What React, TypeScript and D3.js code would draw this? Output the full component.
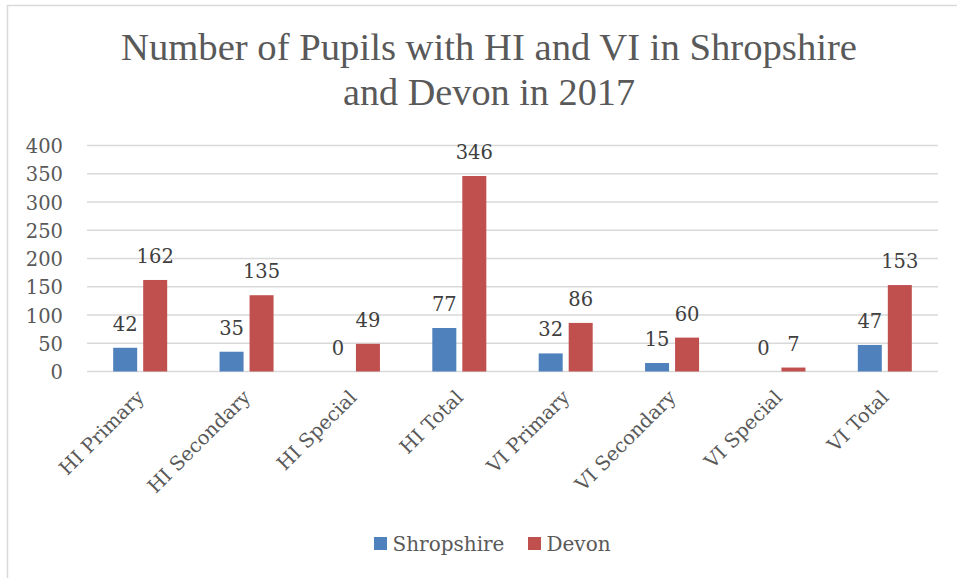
import { useRef, useEffect } from "react";
import * as d3 from "d3";

const categories = [
  "HI Primary",
  "HI Secondary",
  "HI Special",
  "HI Total",
  "VI Primary",
  "VI Secondary",
  "VI Special",
  "VI Total",
];
const seriesNames = ["Shropshire", "Devon"];
const shropshire = [42, 35, 0, 77, 32, 15, 0, 47];
const devon = [162, 135, 49, 346, 86, 60, 7, 153];
const yTicks = [0, 50, 100, 150, 200, 250, 300, 350, 400];
const titleLines = ["Number of Pupils with HI and VI in Shropshire", "and Devon in 2017"];

const colors = ["#4F81BD", "#C0504D"];
const serif = "'DejaVu Serif', serif";

export default function App() {
  const svgRef = useRef<SVGSVGElement>(null);

  useEffect(() => {
    const svg = d3.select(svgRef.current);
    svg.selectAll("*").remove();

    const width = 957;
    const height = 578;
    const left = 87;
    const right = 938;
    const top = 145.5;
    const bottom = 371.5;

    svg.attr("width", width).attr("height", height);

    // chart frame (cut off at right and bottom in the reference)
    svg
      .append("rect")
      .attr("x", 7.5)
      .attr("y", 5.5)
      .attr("width", 1000)
      .attr("height", 700)
      .attr("fill", "#fff")
      .attr("stroke", "#D9D9D9")
      .attr("stroke-width", 1.5);

    // title
    const widths = [736, 292];
    titleLines.forEach((line, i) => {
      svg
        .append("text")
        .attr("x", 489)
        .attr("y", 60 + i * 45)
        .attr("text-anchor", "middle")
        .attr("font-family", "'Liberation Serif', serif")
        .attr("font-size", 38)
        .attr("fill", "#595959")
        .attr("textLength", widths[i])
        .attr("lengthAdjust", "spacingAndGlyphs")
        .text(line);
    });

    const x = d3.scaleBand().domain(categories).range([left, right]);
    const x1 = d3.scaleBand().domain(seriesNames).range([-27, 27]).paddingInner(0.2);
    const y = d3.scaleLinear().domain([0, 400]).range([bottom, top]);

    // gridlines
    svg
      .append("g")
      .selectAll("line")
      .data(yTicks)
      .join("line")
      .attr("x1", left)
      .attr("x2", right)
      .attr("y1", (d) => y(d))
      .attr("y2", (d) => y(d))
      .attr("stroke", "#D9D9D9")
      .attr("stroke-width", 1.5);

    // y tick labels
    svg
      .append("g")
      .selectAll("text")
      .data(yTicks)
      .join("text")
      .attr("x", 63)
      .attr("y", (d) => y(d) + 7.5)
      .attr("text-anchor", "end")
      .attr("font-family", serif)
      .attr("font-size", 19.5)
      .attr("fill", "#595959")
      .text((d) => d);

    // bars + labels
    const allSeries = [shropshire, devon];
    allSeries.forEach((values, s) => {
      const g = svg.append("g");
      g.selectAll("rect")
        .data(values)
        .join("rect")
        .attr("x", (_, i) => x(categories[i])! + x.bandwidth() / 2 + x1(seriesNames[s])!)
        .attr("y", (d) => y(d))
        .attr("width", x1.bandwidth())
        .attr("height", (d) => bottom - y(d))
        .attr("fill", colors[s]);

      g.selectAll("text")
        .data(values)
        .join("text")
        .attr("x", (_, i) => x(categories[i])! + x.bandwidth() / 2 + x1(seriesNames[s])! + x1.bandwidth() / 2)
        .attr("y", (d) => y(d) - 17)
        .attr("text-anchor", "middle")
        .attr("font-family", serif)
        .attr("font-size", 19.5)
        .attr("fill", "#404040")
        .text((d) => d);
    });

    // category labels, rotated
    svg
      .append("g")
      .selectAll("text")
      .data(categories)
      .join("text")
      .attr("transform", (d) => `translate(${x(d)! + x.bandwidth() / 2 + 5},${bottom + 27}) rotate(-45)`)
      .attr("text-anchor", "end")
      .attr("font-family", serif)
      .attr("font-size", 19.5)
      .attr("fill", "#595959")
      .text((d) => d);

    // legend
    const legendX = [374, 528];
    seriesNames.forEach((name, i) => {
      const lg = svg.append("g").attr("transform", `translate(${legendX[i]},537)`);
      lg.append("rect").attr("width", 13).attr("height", 13).attr("fill", colors[i]);
      lg.append("text")
        .attr("x", 18.5)
        .attr("y", 14)
        .attr("font-family", serif)
        .attr("font-size", 20)
        .attr("fill", "#595959")
        .text(name);
    });
  }, []);

  return <svg ref={svgRef} style={{ position: "absolute", left: 0, top: 0 }}></svg>;
}
